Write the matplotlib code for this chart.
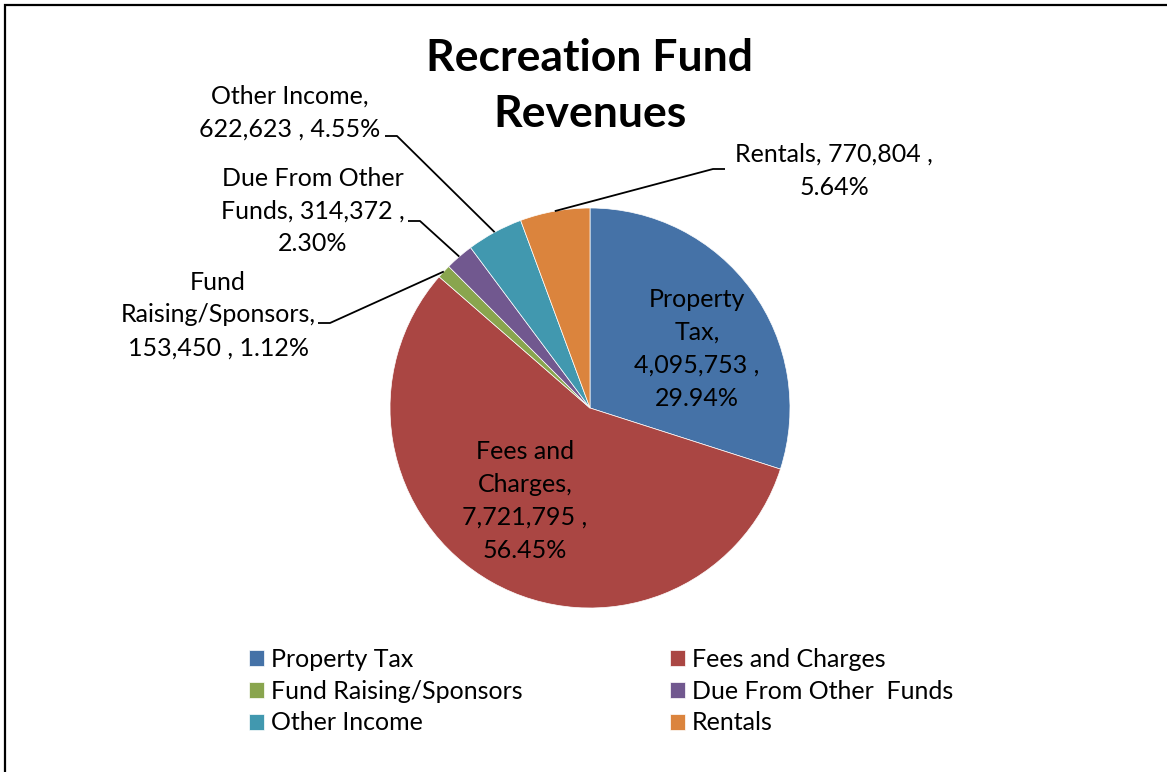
import matplotlib.pyplot as plt
from matplotlib.patches import Rectangle
import numpy as np

# DATA
categories = ['Property Tax', 'Fees and Charges', 'Fund Raising/Sponsors',
              'Due From Other  Funds', 'Other Income', 'Rentals']
values = [4095753, 7721795, 153450, 314372, 622623, 770804]
percents = ['29.94%', '56.45%', '1.12%', '2.30%', '4.55%', '5.64%']
colors = ['#4572A7', '#AA4643', '#89A54E', '#71588F', '#4198AF', '#DB843D']
label_texts = [
    'Property\nTax,\n4,095,753 ,\n29.94%',
    'Fees and\nCharges,\n7,721,795 ,\n56.45%',
    'Fund\nRaising/Sponsors,\n153,450 , 1.12%',
    'Due From Other\nFunds, 314,372 ,\n2.30%',
    'Other Income,\n622,623 , 4.55%',
    'Rentals, 770,804 ,\n5.64%',
]
title = 'Recreation Fund\nRevenues'

W, H = 1167, 772
FONT = 'Lato'
FS = 18


def Y(y):
    # image row -> data y
    return H - y


fig = plt.figure(figsize=(W / 100, H / 100), dpi=100)
ax = fig.add_axes([0, 0, 1, 1])

cx, cy, r = 590, Y(408), 200
wedges, _ = ax.pie(values, colors=colors, startangle=90, counterclock=False,
                   center=(cx, cy), radius=r, frame=True,
                   wedgeprops=dict(edgecolor='white', linewidth=0.5))
ax.set_xlim(0, W)
ax.set_ylim(0, H)
ax.set_aspect('auto')
ax.axis('off')

# frame (only left and top are visible in the picture)
ax.add_patch(Rectangle((5, -20), W + 40, Y(5) + 20, fill=False,
                       edgecolor='black', linewidth=1.6))

ax.text(590, Y(86), title, ha='center', va='center', fontsize=32,
        fontweight='bold', family=FONT, linespacing=1.47)

# inside labels
ax.text(697, Y(349), label_texts[0], ha='center', va='center', fontsize=FS,
        family=FONT, linespacing=1.52)
ax.text(525, Y(501), label_texts[1], ha='center', va='center', fontsize=FS,
        family=FONT, linespacing=1.52)

# outside labels: (text centre, text end of leader, elbow)
outside = {
    2: ((218, 315), (318, 323), (330, 323)),
    3: ((313, 211), (408, 221), (420, 221)),
    4: ((290, 113), (385, 136), (397, 136)),
    5: ((834, 171), (725, 169), (713, 169)),
}
for i, ((tx, ty), (ex, ey), (bx, by)) in outside.items():
    w = wedges[i]
    mid = np.deg2rad((w.theta1 + w.theta2) / 2)
    px, py = cx + r * np.cos(mid), cy + r * np.sin(mid)
    ax.plot([ex, bx, px], [Y(ey), Y(by), py], color='black', lw=1.3,
            solid_capstyle='butt')
    ax.text(tx, Y(ty), label_texts[i], ha='center', va='center', fontsize=FS,
            family=FONT, linespacing=1.52)

order = [0, 2, 4, 1, 3, 5]
leg = ax.legend([wedges[i] for i in order], [categories[i] for i in order],
                ncol=2, loc='upper left', bbox_to_anchor=(249 / W, Y(648) / H),
                frameon=False, borderpad=0, borderaxespad=0,
                handlelength=0.6, handleheight=0.6,
                handletextpad=0.28, columnspacing=5.9, labelspacing=0.35,
                prop=dict(family=FONT, size=FS))

fig.savefig('out.png', dpi=100)
